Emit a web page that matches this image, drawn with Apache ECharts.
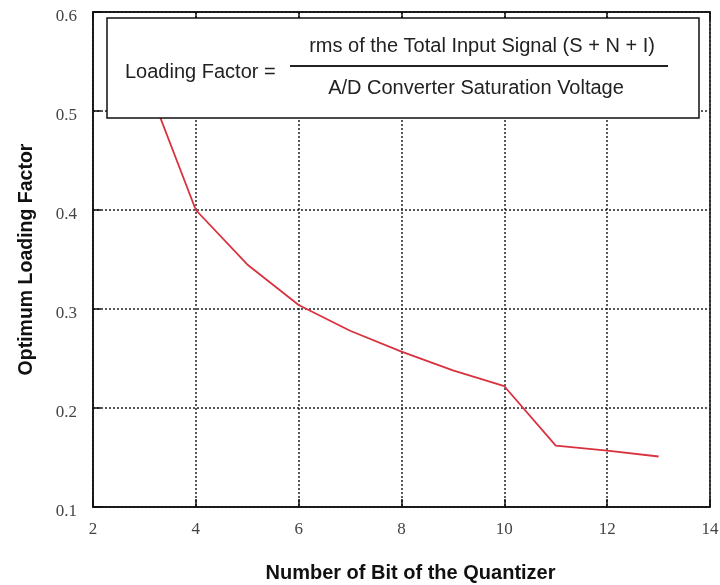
<!DOCTYPE html>
<html><head><meta charset="utf-8">
<script src="https://cdn.jsdelivr.net/npm/echarts@6/dist/echarts.min.js"></script>
<style>html,body{margin:0;padding:0;background:#fff}#c{width:720px;height:585px}</style>
</head><body><div id="c"></div>
<script>
var bits = [3, 4, 5, 6, 7, 8, 9, 10, 11, 12, 13];
var loadingFactor = [0.535, 0.400, 0.345, 0.304, 0.278, 0.257, 0.238, 0.222, 0.162, 0.157, 0.151];
var xTicks = [2, 4, 6, 8, 10, 12, 14];
var yTicks = [0.1, 0.2, 0.3, 0.4, 0.5, 0.6];
var xTitle = 'Number of Bit of the Quantizer';
var yTitle = 'Optimum Loading Factor';
var boxLeft = 'Loading Factor =';
var boxNum = 'rms of the Total Input Signal (S + N + I)';
var boxDen = 'A/D Converter Saturation Voltage';

var chart = echarts.init(document.getElementById('c'));
var gridStyle = {color: '#222', type: [2, 2], width: 1.5};
var tickFont = {fontFamily: 'Liberation Serif', fontSize: 17, color: '#444'};
chart.setOption({
  animation: false,
  grid: {left: 93, right: 10, top: 12, bottom: 78, outerBoundsMode: 'none', containLabel: false, show: true, borderColor: '#111', borderWidth: 1.5},
  xAxis: [{
    type: 'value', min: 2, max: 14, interval: 2,
    axisLine: {show: true, onZero: false, lineStyle: {color: '#111', width: 1.5}},
    axisTick: {show: true, inside: true, length: 8, lineStyle: {color: '#111', width: 1.5}},
    axisLabel: Object.assign({margin: 14, formatter: function (v) { return xTicks.indexOf(v) >= 0 ? String(v) : ''; }}, tickFont),
    splitLine: {show: true, lineStyle: gridStyle},
    name: xTitle, nameLocation: 'middle', nameGap: 56,
    nameTextStyle: {fontFamily: 'Liberation Sans', fontWeight: 'bold', fontSize: 20, color: '#111', padding: [0, 0, 0, 18]}
  }, {
    type: 'value', min: 2, max: 14, interval: 2, position: 'top',
    axisLine: {show: true, lineStyle: {color: '#111', width: 1.5}},
    axisTick: {show: true, inside: true, length: 8, lineStyle: {color: '#111', width: 1.5}},
    axisLabel: {show: false}, splitLine: {show: false}
  }],
  yAxis: [{
    type: 'value', min: 0.1, max: 0.6, interval: 0.1,
    axisLine: {show: true, onZero: false, lineStyle: {color: '#111', width: 1.5}},
    axisTick: {show: true, inside: true, length: 8, lineStyle: {color: '#111', width: 1.5}},
    axisLabel: Object.assign({margin: 16, verticalAlign: 'top', lineHeight: 10, formatter: function (v) { return v.toFixed(1); }}, tickFont),
    splitLine: {show: true, lineStyle: gridStyle},
    name: yTitle, nameLocation: 'middle', nameGap: 56, nameRotate: 90,
    nameTextStyle: {fontFamily: 'Liberation Sans', fontWeight: 'bold', fontSize: 19.5, color: '#111'}
  }],
  series: [{
    type: 'line', data: bits.map(function (b, i) { return [b, loadingFactor[i]]; }),
    showSymbol: false, symbol: 'none', z: 5,
    lineStyle: {color: '#d9323f', width: 1.8}
  }],
  graphic: [
    {type: 'rect', z: 100, shape: {x: 107, y: 18, width: 592, height: 100}, style: {fill: '#fff', stroke: '#111', lineWidth: 1.5}},
    {type: 'text', z: 101, x: 125, y: 72, style: {text: boxLeft, font: '20px "Liberation Sans"', fill: '#222', textAlign: 'left', textVerticalAlign: 'middle'}},
    {type: 'text', z: 101, x: 482, y: 46, style: {text: boxNum, font: '20px "Liberation Sans"', fill: '#222', textAlign: 'center', textVerticalAlign: 'middle'}},
    {type: 'line', z: 101, shape: {x1: 290, y1: 66, x2: 668, y2: 66}, style: {stroke: '#222', lineWidth: 2}},
    {type: 'text', z: 101, x: 476, y: 88, style: {text: boxDen, font: '20px "Liberation Sans"', fill: '#222', textAlign: 'center', textVerticalAlign: 'middle'}}
  ]
});
</script></body></html>
